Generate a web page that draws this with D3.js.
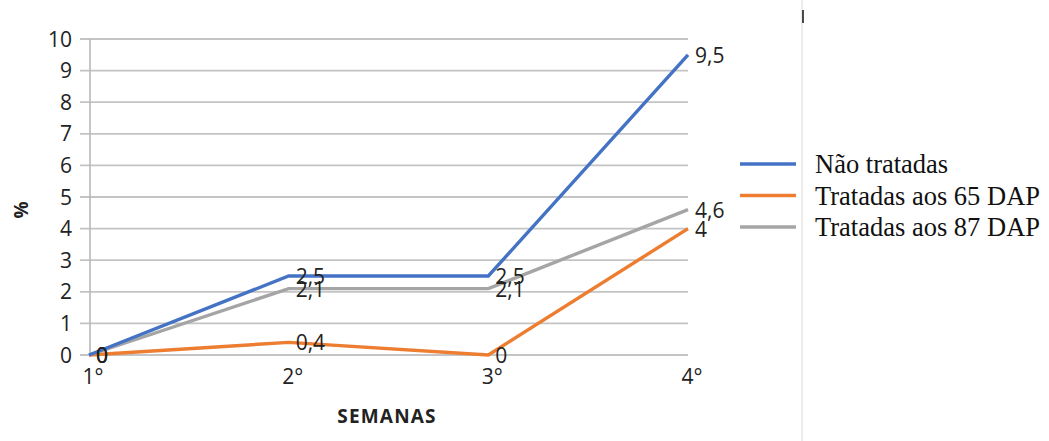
<!DOCTYPE html>
<html>
<head>
<meta charset="utf-8">
<script src="https://cdn.jsdelivr.net/npm/d3@7"></script>
<style>
  body{margin:0;background:#fff}
  svg{display:block}
</style>
</head>
<body>
<div id="chart"></div>
<script>
const weeks = ["1°","2°","3°","4°"]
const seriesNames = ["Não tratadas","Tratadas aos 65 DAP","Tratadas aos 87 DAP"]
const naoTratadas = [0,2.5,2.5,9.5]
const tratadas65 = [0,0.4,0,4]
const tratadas87 = [0,2.1,2.1,4.6]
const yTicks = [0,1,2,3,4,5,6,7,8,9,10]
const colors = ["#4472c4","#ed7d31","#a5a5a5"]

drawChart("#chart")

function drawChart(id){
    const canvas = {width:1049,height:441,margin:{top:39,right:361,bottom:86,left:89}}
    const svg = d3.select(id).append("svg").attr("width",canvas.width).attr("height",canvas.height)

    const x = d3.scalePoint().domain(weeks).range([canvas.margin.left,canvas.width - canvas.margin.right])
    const y = d3.scaleLinear().domain([0,10]).range([canvas.height - canvas.margin.bottom,canvas.margin.top])

    // grid
    svg.append("g").selectAll("line").data(yTicks).enter().append("line")
     .attr("x1",80).attr("x2",x("4°"))
     .attr("y1",d => y(d)).attr("y2",d => y(d))
     .attr("stroke","#c4c4c4").attr("stroke-width",1.8)

    svg.append("line").attr("x1",x("1°")+1).attr("x2",x("1°")+1)
     .attr("y1",y(10)).attr("y2",y(0))
     .attr("stroke","#b8b8b8").attr("stroke-width",1.6)

    svg.append("g").selectAll("text").data(yTicks).enter().append("text")
     .attr("x",72).attr("y",d => y(d)+7.5).attr("text-anchor","end")
     .attr("font-family","Open Sans").attr("font-size","21px").attr("fill","#222")
     .text(d => d)

    svg.append("g").selectAll("text").data(weeks).enter().append("text")
     .attr("x",d => x(d)+4).attr("y",y(0)+29).attr("text-anchor","middle")
     .attr("font-family","Open Sans").attr("font-size","21px").attr("fill","#222")
     .text(d => d)

    const all = [naoTratadas,tratadas65,tratadas87]
    const line = d3.line().x((d,i) => x(weeks[i])).y(d => y(d))
    const order = [1,2,0]
    order.forEach(k => {
        svg.append("path").datum(all[k]).attr("fill","none").attr("stroke",colors[k])
         .attr("stroke-width",3.4).attr("stroke-linejoin","miter").attr("d",line)
    })

    all.forEach(vals => {
        svg.append("g").selectAll("text").data(vals).enter().append("text")
         .attr("x",(d,i) => x(weeks[i])+7).attr("y",d => y(d)+8)
         .attr("font-family","Open Sans").attr("font-size","21px").attr("fill","#222")
         .text(d => String(d).replace(".",","))
    })

    svg.append("text").attr("transform","translate(28,210) rotate(-90)")
     .attr("text-anchor","middle").attr("font-family","Open Sans").attr("font-weight","bold")
     .attr("font-size","19px").attr("fill","#222").text("%")

    svg.append("text").attr("x",387).attr("y",423).attr("text-anchor","middle")
     .attr("font-family","Open Sans").attr("font-weight","bold").attr("font-size","19px")
     .attr("letter-spacing","1.2px").attr("fill","#222").text("SEMANAS")

    // legend
    const lg = svg.append("g")
    seriesNames.forEach((s,i) => {
        const ly = 164 + i*31.5
        lg.append("line").attr("x1",740).attr("x2",796).attr("y1",ly).attr("y2",ly)
         .attr("stroke",colors[i]).attr("stroke-width",3.4)
        lg.append("text").attr("x",815).attr("y",ly+9)
         .attr("font-family","Liberation Serif").attr("font-size","26.5px").attr("fill","#111")
         .text(s)
    })

    svg.append("line").attr("x1",802).attr("x2",802).attr("y1",0).attr("y2",441)
     .attr("stroke","#e6e6e6").attr("stroke-width",1.5)
    svg.append("line").attr("x1",803).attr("x2",803).attr("y1",10).attr("y2",23)
     .attr("stroke","#111").attr("stroke-width",1.5)
}
</script>
</body>
</html>
